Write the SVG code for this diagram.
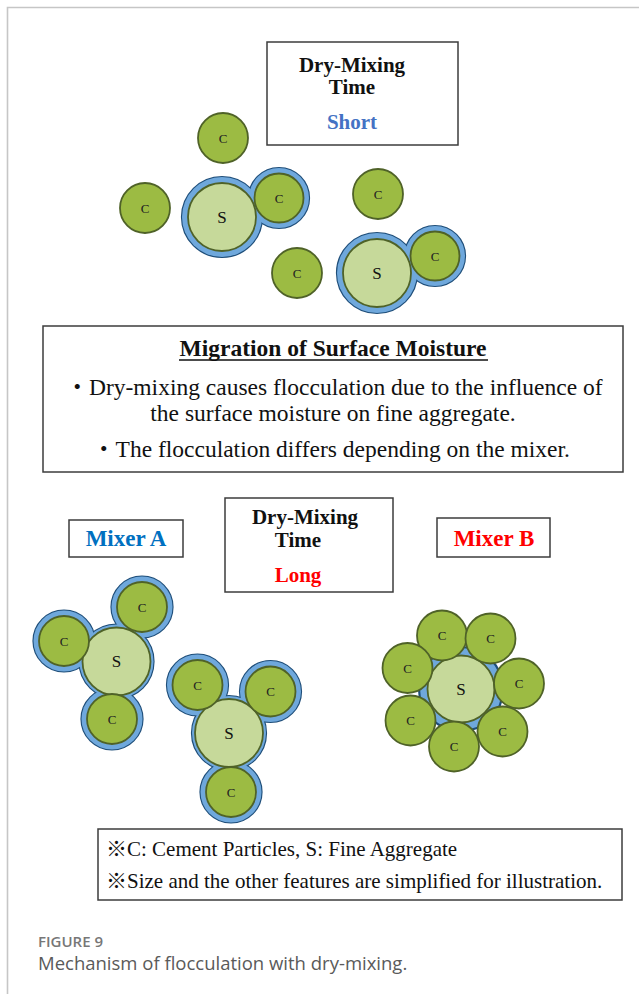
<svg xmlns="http://www.w3.org/2000/svg" width="639" height="994" viewBox="0 0 639 994">
  <style>
    .frame { stroke: #c6c6c6; stroke-width: 1.6; fill: none; }
    .box { fill: #ffffff; stroke: #3c3c3c; stroke-width: 1.5; }
    .serif { font-family: "Liberation Serif", "Times New Roman", "Noto Sans CJK JP", serif; fill: #111; }
    .bold { font-weight: bold; }
    .mid { text-anchor: middle; }
    .water { fill: #6fa8dc; stroke: #1f4e79; stroke-width: 2.2; }
    .water-fill { fill: #6fa8dc; stroke: none; }
    .cement { fill: #9cbb43; stroke: #4f6228; stroke-width: 1.8; }
    .sand { fill: #c6d99a; stroke: #4f6228; stroke-width: 1.8; }
    .lbl-c { font-family: "Liberation Serif", serif; font-size: 13px; fill: #222; text-anchor: middle; dominant-baseline: central; }
    .lbl-s { font-family: "Liberation Serif", serif; font-size: 17px; fill: #111; text-anchor: middle; dominant-baseline: central; }
    .cap { font-family: "Open Sans", "Liberation Sans", sans-serif; }
  </style>

  <!-- page frame -->
  <path class="frame" d="M7.5 994 V7.5 H639"/>

  <!-- short dry-mixing time label -->
  <g id="time-short">
    <rect class="box" x="267" y="42" width="191" height="103"/>
    <text class="serif bold mid" x="352" y="72" font-size="21">Dry-Mixing</text>
    <text class="serif bold mid" x="352" y="94" font-size="21">Time</text>
    <text class="serif bold mid" x="352" y="129" font-size="21" style="fill:#4472c4">Short</text>
  </g>

  <!-- short mixing: loose cement particles -->
  <g id="c-free-1"><circle class="cement" cx="223" cy="138" r="25"/><text class="lbl-c" x="223" y="138">C</text></g>
  <g id="c-free-2"><circle class="cement" cx="145" cy="208" r="25"/><text class="lbl-c" x="145" y="208">C</text></g>
  <g id="c-free-3"><circle class="cement" cx="297" cy="273" r="25"/><text class="lbl-c" x="297" y="273">C</text></g>
  <g id="c-free-4"><circle class="cement" cx="378" cy="194" r="25"/><text class="lbl-c" x="378" y="194">C</text></g>

  <!-- short mixing: sand with one attached cement particle -->
  <g id="floc-short-1">
    <circle class="water" cx="222" cy="217" r="40"/>
    <circle class="water" cx="279" cy="198" r="30"/>
    <circle class="water-fill" cx="222" cy="217" r="40"/>
    <circle class="water-fill" cx="279" cy="198" r="30"/>
    <circle class="sand" cx="222" cy="217" r="34"/>
    <circle class="cement" cx="279" cy="198" r="24.5"/>
    <text class="lbl-s" x="222" y="217">S</text>
    <text class="lbl-c" x="279" y="198">C</text>
  </g>
  <g id="floc-short-2">
    <circle class="water" cx="377" cy="273" r="40"/>
    <circle class="water" cx="435" cy="256" r="30"/>
    <circle class="water-fill" cx="377" cy="273" r="40"/>
    <circle class="water-fill" cx="435" cy="256" r="30"/>
    <circle class="sand" cx="377" cy="273" r="34"/>
    <circle class="cement" cx="435" cy="256" r="24.5"/>
    <text class="lbl-s" x="377" y="273">S</text>
    <text class="lbl-c" x="435" y="256">C</text>
  </g>

  <!-- explanation box -->
  <g id="migration-note">
    <rect class="box" x="43" y="326" width="580" height="146"/>
    <text class="serif bold mid" x="333" y="356" font-size="23.5">Migration of Surface Moisture</text>
    <line x1="179" y1="360" x2="488" y2="360" stroke="#111" stroke-width="1.6"/>
    <text class="serif mid" x="334" y="395" font-size="23.5">・Dry-mixing causes flocculation due to the influence of</text>
    <text class="serif mid" x="333" y="421" font-size="23.5">the surface moisture on fine aggregate.</text>
    <text class="serif mid" x="331" y="457" font-size="23.5">・The flocculation differs depending on the mixer.</text>
  </g>

  <!-- long dry-mixing time labels -->
  <g id="mixer-a">
    <rect class="box" x="69" y="520" width="114" height="37"/>
    <text class="serif bold mid" x="126" y="546" font-size="23" style="fill:#0070c0">Mixer A</text>
  </g>
  <g id="time-long">
    <rect class="box" x="225" y="498" width="168" height="94"/>
    <text class="serif bold mid" x="305" y="524" font-size="21">Dry-Mixing</text>
    <text class="serif bold mid" x="298" y="547" font-size="21">Time</text>
    <text class="serif bold mid" x="298" y="582" font-size="21" style="fill:#ff0000">Long</text>
  </g>
  <g id="mixer-b">
    <rect class="box" x="437" y="518" width="113" height="39"/>
    <text class="serif bold mid" x="494" y="546" font-size="23" style="fill:#ff0000">Mixer B</text>
  </g>

  <!-- mixer A: sand with three cement particles -->
  <g id="floc-a-1">
    <circle class="water" cx="116.5" cy="661.5" r="37"/>
    <circle class="water" cx="142" cy="607" r="30.5"/>
    <circle class="water" cx="64" cy="641" r="30.5"/>
    <circle class="water" cx="112" cy="719" r="30.5"/>
    <circle class="water-fill" cx="116.5" cy="661.5" r="37"/>
    <circle class="water-fill" cx="142" cy="607" r="30.5"/>
    <circle class="water-fill" cx="64" cy="641" r="30.5"/>
    <circle class="water-fill" cx="112" cy="719" r="30.5"/>
    <circle class="sand" cx="116.5" cy="661.5" r="34"/>
    <circle class="cement" cx="142" cy="607" r="25"/>
    <circle class="cement" cx="64" cy="641" r="25"/>
    <circle class="cement" cx="112" cy="719" r="25"/>
    <text class="lbl-s" x="116.5" y="661.5">S</text>
    <text class="lbl-c" x="142" y="607">C</text>
    <text class="lbl-c" x="64" y="641">C</text>
    <text class="lbl-c" x="112" y="719">C</text>
  </g>
  <g id="floc-a-2">
    <circle class="water" cx="229" cy="733" r="37"/>
    <circle class="water" cx="197.5" cy="685" r="30.5"/>
    <circle class="water" cx="270.5" cy="691.5" r="30.5"/>
    <circle class="water" cx="231" cy="792" r="30.5"/>
    <circle class="water-fill" cx="229" cy="733" r="37"/>
    <circle class="water-fill" cx="197.5" cy="685" r="30.5"/>
    <circle class="water-fill" cx="270.5" cy="691.5" r="30.5"/>
    <circle class="water-fill" cx="231" cy="792" r="30.5"/>
    <circle class="sand" cx="229" cy="733" r="34"/>
    <circle class="cement" cx="197.5" cy="685" r="25"/>
    <circle class="cement" cx="270.5" cy="691.5" r="25"/>
    <circle class="cement" cx="231" cy="792" r="25"/>
    <text class="lbl-s" x="229" y="733">S</text>
    <text class="lbl-c" x="197.5" y="685">C</text>
    <text class="lbl-c" x="270.5" y="691.5">C</text>
    <text class="lbl-c" x="231" y="792">C</text>
  </g>

  <!-- mixer B: sand surrounded by seven cement particles -->
  <g id="floc-b">
    <circle class="water" cx="461" cy="689" r="42"/>
    <circle class="sand" cx="461" cy="689" r="33.5"/>
    <text class="lbl-s" x="461" y="689">S</text>
    <circle class="cement" cx="442" cy="635.5" r="25"/>
    <circle class="cement" cx="490.5" cy="638.5" r="25"/>
    <circle class="cement" cx="407.5" cy="668" r="25"/>
    <circle class="cement" cx="519" cy="683.5" r="25"/>
    <circle class="cement" cx="410.5" cy="720.5" r="25"/>
    <circle class="cement" cx="502.5" cy="731.5" r="25"/>
    <circle class="cement" cx="454" cy="746.5" r="25"/>
    <text class="lbl-c" x="442" y="635.5">C</text>
    <text class="lbl-c" x="490.5" y="638.5">C</text>
    <text class="lbl-c" x="407.5" y="668">C</text>
    <text class="lbl-c" x="519" y="683.5">C</text>
    <text class="lbl-c" x="410.5" y="720.5">C</text>
    <text class="lbl-c" x="502.5" y="731.5">C</text>
    <text class="lbl-c" x="454" y="746.5">C</text>
  </g>

  <!-- legend -->
  <g id="legend">
    <rect class="box" x="98" y="829" width="524" height="71"/>
    <text class="serif" x="106" y="856" font-size="21">※C: Cement Particles, S: Fine Aggregate</text>
    <text class="serif" x="106" y="888" font-size="21">※Size and the other features are simplified for illustration.</text>
  </g>

  <!-- caption -->
  <g id="caption">
    <text class="cap" x="38" y="947" font-size="15" font-weight="600" fill="#777777">FIGURE 9</text>
    <text class="cap" x="38" y="970" font-size="18.5" fill="#5a5a5a">Mechanism of flocculation with dry-mixing.</text>
  </g>
</svg>
